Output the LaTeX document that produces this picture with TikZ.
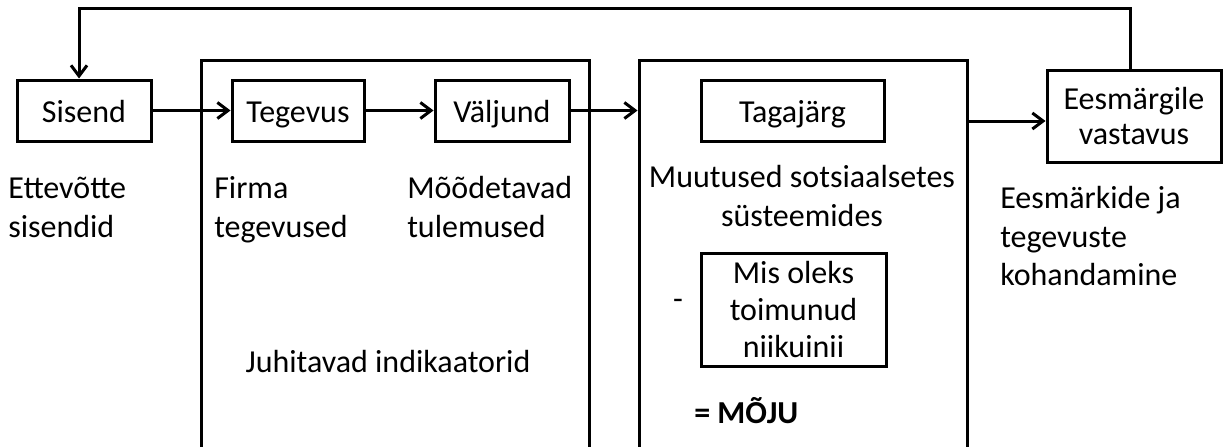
\documentclass[tikz,border=0pt]{standalone}
\usepackage{fontspec}
\setmainfont{Carlito}
\usetikzlibrary{arrows.meta}
\begin{document}
\begin{tikzpicture}[x=0.75pt,y=-0.75pt,
  every node/.style={font=\fontsize{24}{29}\selectfont, inner sep=0pt},
  box/.style={draw, line width=2.25pt},
  onebox/.style={box, text height=21.5pt, text depth=4.25pt},
  frame/.style={draw, line width=2.25pt},
  conn/.style={line width=2.25pt, -{Straight Barb[length=8pt,width=12pt,line width=2.25pt]}},
  label/.style={align=left, anchor=north west},
  clabel/.style={align=center, anchor=north}]
\useasboundingbox (0,0) rectangle (1223,446);

% large frames, running off the bottom edge
\node[frame, minimum width=291pt, minimum height=294pt] (B1) at (395,256) {};
\node[frame, minimum width=246pt, minimum height=294pt] (B2) at (803,256) {};

% boxes
\node[onebox, minimum width=100.5pt, minimum height=45.75pt] (S) at (84,110.5) {Sisend};
\node[onebox, minimum width=99pt, minimum height=45.75pt] (T) at (298,110.5) {Tegevus};
\node[onebox, minimum width=100.5pt, minimum height=45.75pt] (V) at (502,110.5) {Väljund};
\node[onebox, minimum width=137.25pt, minimum height=45.75pt] (G) at (792.5,110.5) {Tagajärg};
\node[box, minimum width=130.5pt, minimum height=69pt, align=center,
      font=\fontsize{24}{26.5}\selectfont] (E) at (1134,116) {Eesmärgile\\vastavus};
\node[box, minimum width=138.75pt, minimum height=84.75pt, align=center,
      font=\fontsize{24}{28}\selectfont] (M) at (793.5,309.5) {Mis oleks\\toimunud\\niikuinii};

% connectors
\draw[conn] (S.east) -- (T.west);
\draw[conn] (T.east) -- (V.west);
\draw[conn] (V.east) -- (B2.west |- V.east);
\coordinate (ea) at (1000,121);
\draw[conn] (B2.east |- ea) -- (E.west |- ea);
\coordinate (fbR) at (1130,8);
\coordinate (fbL) at (79,8);
\draw[conn] (E.north -| fbR) -- (fbR) -- (fbL) -- (fbL |- S.north);

% descriptions (a strut on the first line keeps the baselines level)
\node[label] (d1) at (8,171) {\strut Ettevõtte\\sisendid};
\node[label] (d2) at (214,171) {\strut Firma\\tegevused};
\node[label] (d3) at (407,171) {\strut Mõõdetavad\\tulemused};
\node[clabel] (d4) at (802,160) {\strut Muutused sotsiaalsetes\\süsteemides};
\node[label] (d5) at (1000,181) {\strut Eesmärkide ja\\tegevuste\\kohandamine};
\node[anchor=base] (d6) at (388,372) {Juhitavad indikaatorid};
\node (minus) at (678,304) {-};
\node[anchor=base west] (moju) at (694,423) {\textbf{= MÕJU}};
\end{tikzpicture}
\end{document}
